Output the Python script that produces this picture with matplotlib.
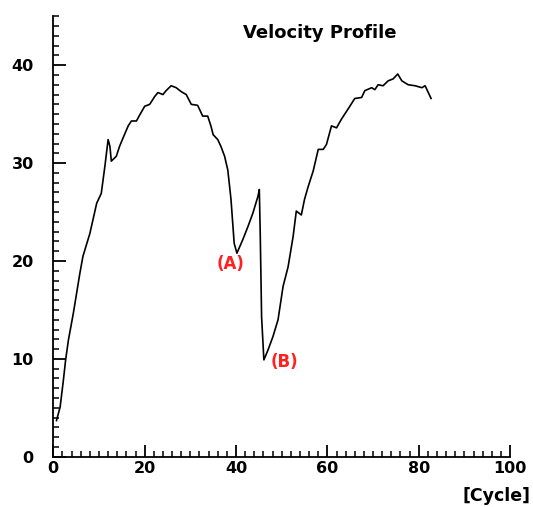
import matplotlib
matplotlib.use("Agg")
import matplotlib.pyplot as plt
from matplotlib.ticker import MultipleLocator

# velocity vs cycle
cycle = [0.7, 1.5, 2.2, 2.7, 3.3, 4.4, 5.8, 6.5, 8.0, 9.5, 10.5, 11.3, 12.0, 12.4,
         12.7, 13.8, 14.5, 15.3, 16.4, 17.1, 18.2, 18.9, 20.0, 21.1, 22.2, 22.9,
         24.0, 24.7, 25.8, 26.9, 28.0, 29.1, 30.2, 31.6, 32.7, 33.8, 34.5, 35.0,
         36.0, 36.7, 37.5, 38.2, 38.9, 39.6, 40.2, 41.5, 42.6, 43.7, 44.8, 45.1, 45.3,
         45.6, 46.1, 47.0, 48.1, 49.2, 50.3, 51.4, 52.5, 53.2, 54.3, 55.0, 55.8,
         56.9, 58.0, 59.1, 59.8, 60.9, 62.0, 63.1, 64.5, 66.0, 67.5, 68.2, 69.7,
         70.4, 71.1, 72.2, 73.3, 74.4, 75.4, 76.3, 77.7, 79.2, 80.7, 81.4, 82.7]
velocity = [3.7, 5.1, 7.8, 9.9, 11.9, 14.7, 18.7, 20.5, 22.8, 25.9, 26.9, 29.7, 32.4, 31.7,
            30.2, 30.7, 31.7, 32.6, 33.8, 34.3, 34.3, 34.9, 35.8, 36.0, 36.8, 37.2,
            37.0, 37.4, 37.9, 37.7, 37.3, 37.0, 36.0, 35.9, 34.8, 34.8, 33.8, 32.9,
            32.4, 31.7, 30.7, 29.3, 26.3, 21.8, 20.8, 22.2, 23.5, 24.9, 26.6, 27.3, 22.9,
            14.3, 9.9, 10.9, 12.3, 14.0, 17.4, 19.4, 22.5, 25.1, 24.7, 26.3, 27.6,
            29.2, 31.4, 31.4, 31.9, 33.8, 33.6, 34.5, 35.5, 36.6, 36.7, 37.4, 37.7,
            37.5, 38.0, 37.9, 38.4, 38.6, 39.1, 38.4, 38.0, 37.9, 37.7, 37.9, 36.6]

marks = ["(A)", "(B)"]
mark_x = [38.7, 50.7]
mark_y = [19.7, 9.7]

fig = plt.figure(figsize=(5.33, 5.07), dpi=100)
ax = fig.add_axes([0.100, 0.099, 0.857, 0.869])

ax.plot(cycle, velocity, color="black", linewidth=1.2)

for label, mx, my in zip(marks, mark_x, mark_y):
    ax.text(mx, my, label, color="#ff2020", fontsize=12, fontweight="bold",
            ha="center", va="center")

ax.set_xlim(0, 100)
ax.set_ylim(0, 45)
ax.xaxis.set_major_locator(MultipleLocator(20))
ax.xaxis.set_minor_locator(MultipleLocator(2))
ax.yaxis.set_major_locator(MultipleLocator(10))
ax.yaxis.set_minor_locator(MultipleLocator(1))

ax.spines["top"].set_visible(False)
ax.spines["right"].set_visible(False)
ax.spines["left"].set_linewidth(1.3)
ax.spines["bottom"].set_linewidth(1.3)

ax.tick_params(axis="both", which="major", direction="in", length=9, width=1.3,
               labelsize=11.5)
ax.tick_params(axis="both", which="minor", direction="in", length=4.5, width=1.1)
ax.tick_params(axis="y", which="major", pad=14)
ax.tick_params(axis="x", which="major", pad=3)
for lab in ax.get_xticklabels() + ax.get_yticklabels():
    lab.set_fontweight("bold")

fig.text(0.600, 0.935, "Velocity Profile", fontsize=13, fontweight="bold",
         ha="center", va="center")
fig.text(0.932, 0.021, "[Cycle]", fontsize=12.5, fontweight="bold",
         ha="center", va="center")

fig.savefig("out.png", dpi=100)
